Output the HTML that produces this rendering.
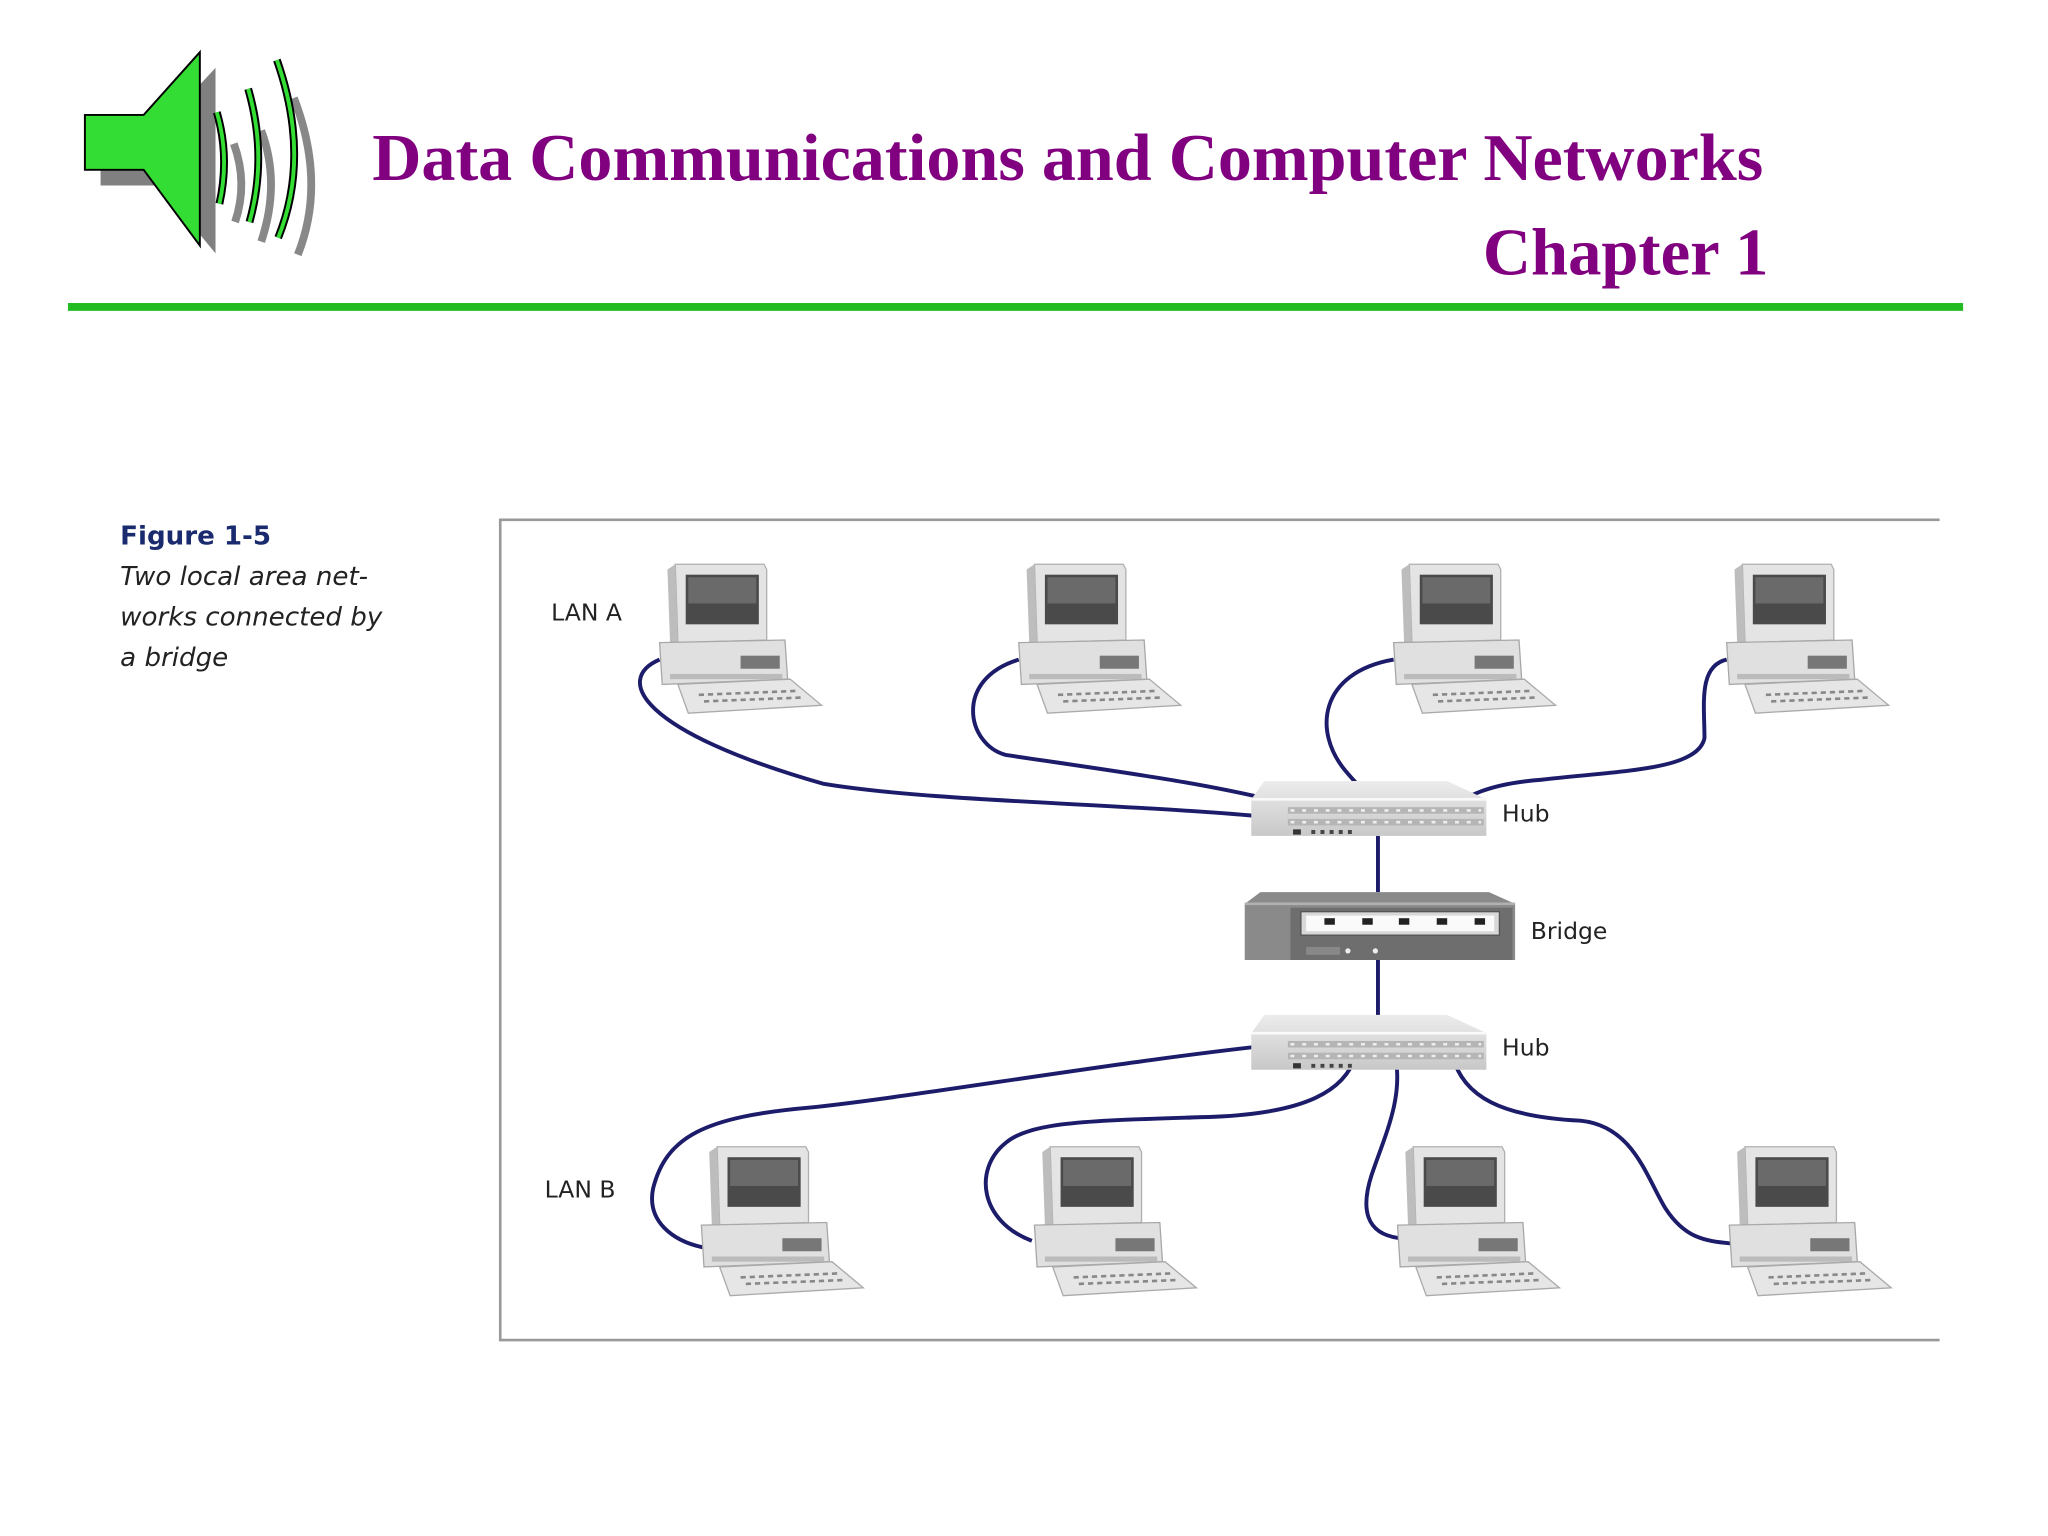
<!DOCTYPE html>
<html><head><meta charset="utf-8"><style>
html,body{margin:0;padding:0;background:#fff;}
svg{display:block}
</style></head><body>
<svg width="2048" height="1536" viewBox="0 0 1568 1176" xmlns="http://www.w3.org/2000/svg">
<defs>
<linearGradient id="hubg" x1="0" y1="0" x2="0" y2="1"><stop offset="0" stop-color="#ececec"/><stop offset="1" stop-color="#c8c8c8"/></linearGradient>
<g id="pc">
  <path d="M12,0 L80,0 L82,4 L82,58 L14,60 Z" fill="#e4e4e4" stroke="#b0b0b0"/>
  <rect x="20" y="8" width="56" height="38" fill="#4a4a4a"/>
  <rect x="22" y="10" width="52" height="20" fill="#6a6a6a"/>
  <path d="M6,4 L12,0 L14,60 L8,60 Z" fill="#bdbdbd"/>
  <path d="M0,60 L96,58 L98,88 L2,92 Z" fill="#e0e0e0" stroke="#a8a8a8"/>
  <rect x="62" y="70" width="30" height="10" fill="#777"/>
  <rect x="8" y="84" width="86" height="4" fill="#bbb"/>
  <path d="M14,92 L100,88 L124,108 L22,114 Z" fill="#e6e6e6" stroke="#aaa"/>
  <path d="M30,100 L104,97 M34,105 L110,102" stroke="#888" stroke-width="2" stroke-dasharray="4 3"/>
</g>
<g id="hub">
  <path d="M10,0 L150,0 L180,14 L180,42 L0,42 L0,14 Z" fill="url(#hubg)"/>
  <path d="M0,14 L180,14" stroke="#fafafa" stroke-width="2"/>
  <rect x="28" y="20" width="150" height="5" fill="#b5b5b5"/>
  <rect x="28" y="29" width="150" height="5" fill="#b5b5b5"/>
  <path d="M30,22.5 H176 M30,31.5 H176" stroke="#eee" stroke-dasharray="3 6" stroke-width="2"/>
  <rect x="32" y="37" width="6" height="4" fill="#333"/>
  <path d="M46,39 H78" stroke="#444" stroke-width="3" stroke-dasharray="3 4"/>
</g>
</defs>

<g>
  <polygon points="77,98 122,98 165,52 165,194 122,142 77,142" fill="#808080"/>
  <path d="M179,110 Q190,140 180,170" stroke="#888" stroke-width="6" fill="none"/>
  <path d="M200,100 Q215,140 200,185" stroke="#888" stroke-width="6" fill="none"/>
  <path d="M225,75 Q250,140 228,195" stroke="#888" stroke-width="6" fill="none"/>
  <polygon points="65,88 110,88 153,40 153,188 110,130 65,130" fill="#33dd33" stroke="#000" stroke-width="1.5"/>
  <path d="M166,86 Q176,120 168,156" stroke="#000" stroke-width="6" fill="none"/>
  <path d="M166,86 Q176,120 168,156" stroke="#33dd33" stroke-width="3" fill="none"/>
  <path d="M190,68 Q205,120 191,170" stroke="#000" stroke-width="6" fill="none"/>
  <path d="M190,68 Q205,120 191,170" stroke="#33dd33" stroke-width="3" fill="none"/>
  <path d="M212,46 Q238,120 213,182" stroke="#000" stroke-width="6" fill="none"/>
  <path d="M212,46 Q238,120 213,182" stroke="#33dd33" stroke-width="3" fill="none"/>
</g>
<text x="285" y="138" textLength="1065" lengthAdjust="spacingAndGlyphs" font-family="Liberation Serif, serif" font-weight="bold" font-size="51" fill="#800080">Data Communications and Computer Networks</text>
<text x="1354" y="210" text-anchor="end" font-family="Liberation Serif, serif" font-weight="bold" font-size="51" fill="#800080">Chapter 1</text>
<rect x="52" y="232" width="1451" height="6" fill="#22bb22"/>

<text x="92" y="417" font-family="DejaVu Sans, sans-serif" font-weight="bold" font-size="20" fill="#1a2a6e">Figure 1-5</text>
<g font-family="DejaVu Sans, sans-serif" font-style="italic" font-size="20" fill="#222">
<text x="92" y="448">Two local area net-</text>
<text x="92" y="479">works connected by</text>
<text x="92" y="510">a bridge</text>
</g>

<path d="M1485,398 H383 V1026 H1485" stroke="#999" stroke-width="2" fill="none"/>

<g stroke="#1c1c6a" stroke-width="3" fill="none">
<path d="M505,505 C470,520 490,560 630,600 C720,615 880,615 995,628"/>
<path d="M780,505 C730,520 740,570 770,578 C850,590 930,600 995,618"/>
<path d="M1067,505 C1010,515 1005,560 1030,590 C1045,608 1055,615 1060,625"/>
<path d="M1322,505 C1300,510 1305,540 1305,565 C1300,590 1240,590 1180,597 C1140,600 1120,610 1112,620"/>
<path d="M1055,640 V683"/>
<path d="M1055,735 V778"/>
<path d="M995,798 C870,810 700,840 620,848 C540,855 510,870 500,910 C495,935 515,950 538,955"/>
<path d="M1038,808 C1030,835 1000,852 930,855 C840,858 790,858 770,875 C745,895 750,935 790,950"/>
<path d="M1068,808 C1075,840 1060,870 1050,900 C1042,925 1045,945 1072,948"/>
<path d="M1112,808 C1120,840 1150,855 1210,858 C1250,862 1260,900 1275,925 C1290,948 1305,950 1325,952"/>
</g>

<use href="#hub" x="958" y="598"/>
<use href="#hub" x="958" y="777"/>
<g>
  <path d="M965,683 L1140,683 L1160,692 L1160,735 L953,735 L953,692 Z" fill="#8a8a8a"/>
  <path d="M953,692 L1160,692" stroke="#b0b0b0" stroke-width="2"/>
  <rect x="988" y="695" width="170" height="40" fill="#6e6e6e"/>
  <rect x="996" y="698" width="152" height="18" fill="#d8d8d8" stroke="#555"/>
  <rect x="1000" y="701" width="144" height="12" fill="#fafafa"/>
  <g fill="#222"><rect x="1014" y="703" width="8" height="5"/><rect x="1043" y="703" width="8" height="5"/><rect x="1071" y="703" width="8" height="5"/><rect x="1100" y="703" width="8" height="5"/><rect x="1129" y="703" width="8" height="5"/></g>
  <rect x="1000" y="725" width="26" height="6" fill="#888"/>
  <circle cx="1032" cy="728" r="2" fill="#eee"/><circle cx="1053" cy="728" r="2" fill="#eee"/>
</g>

<use href="#pc" x="505" y="432"/>
<use href="#pc" x="780" y="432"/>
<use href="#pc" x="1067" y="432"/>
<use href="#pc" x="1322" y="432"/>
<use href="#pc" x="537" y="878"/>
<use href="#pc" x="792" y="878"/>
<use href="#pc" x="1070" y="878"/>
<use href="#pc" x="1324" y="878"/>

<g font-family="DejaVu Sans, sans-serif" font-size="18" fill="#222">
<text x="422" y="475">LAN A</text>
<text x="417" y="917">LAN B</text>
<text x="1150" y="629">Hub</text>
<text x="1172" y="719">Bridge</text>
<text x="1150" y="808">Hub</text>
</g>
</svg>
</body></html>
